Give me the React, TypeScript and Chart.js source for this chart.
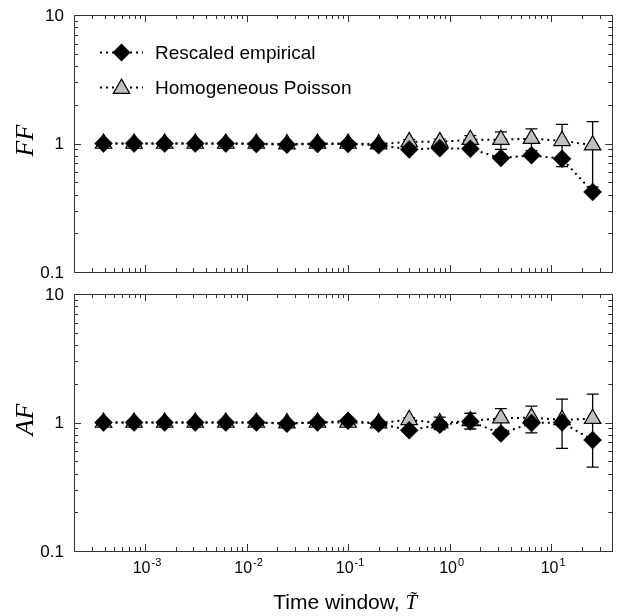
import React, { useEffect, useRef } from 'react';
import { Chart, registerables } from 'chart.js';
Chart.register(...registerables);

// Time windows (T̃)
const WINDOWS = [0.000390625, 0.00078125, 0.0015625, 0.003125, 0.00625, 0.0125, 0.025, 0.05, 0.1, 0.2, 0.4, 0.8, 1.6, 3.2, 6.4, 12.8, 25.6];

// Fano factor panel
const FF_EMPIRICAL = [1.0, 1.0, 1.0, 1.0, 1.0, 0.99, 0.98, 0.99, 0.99, 0.97, 0.9, 0.92, 0.91, 0.77, 0.81, 0.76, 0.42];
const FF_POISSON = [1.0, 1.0, 1.0, 1.0, 1.0, 1.0, 0.99, 1.0, 1.0, 0.99, 1.03, 1.03, 1.07, 1.07, 1.09, 1.05, 0.97];
const FF_POISSON_LO = [null, null, null, null, null, null, null, null, null, 0.97, 0.99, 0.98, 0.99, 0.9, 0.88, 0.66, 0.46];
const FF_POISSON_HI = [null, null, null, null, null, null, null, null, null, 1.01, 1.07, 1.08, 1.15, 1.23, 1.3, 1.41, 1.48];

// Allan factor panel
const AF_EMPIRICAL = [1.0, 1.0, 1.0, 1.0, 1.0, 1.0, 0.98, 1.0, 1.03, 0.98, 0.87, 0.96, 1.02, 0.82, 0.99, 1.0, 0.73];
const AF_POISSON = [1.0, 1.0, 1.0, 1.0, 1.0, 1.0, 0.99, 1.0, 1.0, 0.99, 1.05, 0.99, 1.03, 1.08, 1.09, 1.05, 1.07];
const AF_POISSON_LO = [null, null, null, null, null, null, null, null, 0.97, 0.97, 0.97, 0.88, 0.89, 0.88, 0.83, 0.63, 0.45];
const AF_POISSON_HI = [null, null, null, null, null, null, null, null, 1.03, 1.01, 1.09, 1.1, 1.18, 1.28, 1.34, 1.52, 1.66];

const X_MIN = 2e-4;
const X_MAX = 40;
const Y_MIN = 0.1;
const Y_MAX = 10;
const X_DECADE_LABELS = ['-3', '-2', '-1', '0', '1'];
const X_DECADE_EXP = [-3, -2, -1, 0, 1];
const Y_TICK_LABELS = [0.1, 1, 10];
const Y_TICK_TEXT = ['0.1', '1', '10'];
const LEGEND_LABELS = ['Rescaled empirical', 'Homogeneous Poisson'];

const SANS = "'Liberation Sans', Arial, Helvetica, sans-serif";
const SERIF = "'Liberation Serif', 'Times New Roman', serif";

const DIAMOND_R = 9;
const TRIANGLE_R = 9.5;

type PanelSpec = {
  yTitle: string;
  emp: number[];
  poi: number[];
  lo: (number | null)[];
  hi: (number | null)[];
  showXLabels: boolean;
  showLegend: boolean;
  padding: { left: number; right: number; top: number; bottom: number };
  height: number;
};

function drawDiamond(ctx: CanvasRenderingContext2D, x: number, y: number, r: number) {
  ctx.beginPath();
  ctx.moveTo(x, y - r);
  ctx.lineTo(x + r, y);
  ctx.lineTo(x, y + r);
  ctx.lineTo(x - r, y);
  ctx.closePath();
  ctx.fillStyle = '#000';
  ctx.fill();
}

function drawTriangle(ctx: CanvasRenderingContext2D, x: number, y: number, r: number) {
  const h = r * 1.5;
  const half = r * Math.sin(Math.PI / 3);
  ctx.beginPath();
  ctx.moveTo(x, y - r);
  ctx.lineTo(x + half, y - r + h);
  ctx.lineTo(x - half, y - r + h);
  ctx.closePath();
  ctx.fillStyle = '#c0c0c0';
  ctx.fill();
  ctx.strokeStyle = '#000';
  ctx.lineWidth = 1.2;
  ctx.stroke();
}

function makePlugin(spec: PanelSpec) {
  return {
    id: 'panelDecor',
    beforeDatasetsDraw(chart: any) {
      const ctx: CanvasRenderingContext2D = chart.ctx;
      const xs = chart.scales.x;
      const ys = chart.scales.y;
      ctx.save();
      ctx.strokeStyle = '#000';
      ctx.lineWidth = 1.3;
      for (let i = 0; i < WINDOWS.length; i++) {
        const lo = spec.lo[i];
        const hi = spec.hi[i];
        if (lo == null || hi == null) continue;
        const x = xs.getPixelForValue(WINDOWS[i]);
        const y1 = ys.getPixelForValue(lo);
        const y2 = ys.getPixelForValue(hi);
        ctx.beginPath();
        ctx.moveTo(x, y1);
        ctx.lineTo(x, y2);
        ctx.moveTo(x - 6, y1);
        ctx.lineTo(x + 6, y1);
        ctx.moveTo(x - 6, y2);
        ctx.lineTo(x + 6, y2);
        ctx.stroke();
      }
      ctx.restore();
    },
    afterDraw(chart: any) {
      const ctx: CanvasRenderingContext2D = chart.ctx;
      const { left, right, top, bottom } = chart.chartArea;
      const xs = chart.scales.x;
      const ys = chart.scales.y;
      ctx.save();
      // frame
      ctx.strokeStyle = '#333';
      ctx.lineWidth = 1;
      ctx.strokeRect(Math.round(left) + 0.5, Math.round(top) + 0.5, Math.round(right - left), Math.round(bottom - top));
      // x ticks
      ctx.beginPath();
      for (let d = -4; d <= 1; d++) {
        for (let m = 1; m <= 9; m++) {
          const v = m * Math.pow(10, d);
          if (v < X_MIN || v > X_MAX) continue;
          const px = Math.round(xs.getPixelForValue(v)) + 0.5;
          const len = m === 1 ? 7 : 4;
          ctx.moveTo(px, bottom);
          ctx.lineTo(px, bottom - len);
          ctx.moveTo(px, top);
          ctx.lineTo(px, top + len);
        }
      }
      // y ticks
      for (let d = -1; d <= 1; d++) {
        for (let m = 1; m <= 9; m++) {
          const v = m * Math.pow(10, d);
          if (v < Y_MIN || v > Y_MAX) continue;
          const py = Math.round(ys.getPixelForValue(v)) + 0.5;
          const len = m === 1 ? 7 : 4;
          ctx.moveTo(left, py);
          ctx.lineTo(left + len, py);
          ctx.moveTo(right, py);
          ctx.lineTo(right - len, py);
        }
      }
      ctx.stroke();

      // y tick labels
      ctx.fillStyle = '#000';
      ctx.font = `17px ${SANS}`;
      ctx.textAlign = 'right';
      ctx.textBaseline = 'middle';
      Y_TICK_LABELS.forEach((v, i) => {
        ctx.fillText(Y_TICK_TEXT[i], left - 10, ys.getPixelForValue(v) + 1);
      });

      // y title
      ctx.save();
      ctx.translate(26, (top + bottom) / 2 - 3);
      ctx.rotate(-Math.PI / 2);
      ctx.font = `italic 26px ${SERIF}`;
      ctx.textAlign = 'center';
      ctx.textBaseline = 'middle';
      ctx.fillText(spec.yTitle, 0, 0);
      ctx.restore();

      if (spec.showXLabels) {
        X_DECADE_EXP.forEach((e, i) => {
          const px = xs.getPixelForValue(Math.pow(10, e)) + 2;
          ctx.font = `16px ${SANS}`;
          const w1 = ctx.measureText('10').width;
          ctx.font = `11px ${SANS}`;
          const w2 = ctx.measureText(X_DECADE_LABELS[i]).width;
          const start = px - (w1 + w2 + 1) / 2;
          ctx.textAlign = 'left';
          ctx.textBaseline = 'alphabetic';
          ctx.font = `16px ${SANS}`;
          ctx.fillText('10', start, bottom + 22);
          ctx.font = `11px ${SANS}`;
          ctx.fillText(X_DECADE_LABELS[i], start + w1 + 1, bottom + 15);
        });
        // x title
        const cx = (left + right) / 2 + 2;
        const base = bottom + 58;
        ctx.font = `21px ${SANS}`;
        const part1 = 'Time window, ';
        const wA = ctx.measureText(part1).width;
        ctx.font = `italic 21px ${SERIF}`;
        const wB = ctx.measureText('T').width;
        const sx = cx - (wA + wB) / 2;
        ctx.textAlign = 'left';
        ctx.font = `21px ${SANS}`;
        ctx.fillText(part1, sx, base);
        ctx.font = `italic 21px ${SERIF}`;
        ctx.fillText('T\u0303', sx + wA, base);
      }

      if (spec.showLegend) {
        const rows = [52.5, 87.6];
        rows.forEach((y, i) => {
          ctx.save();
          ctx.strokeStyle = '#000';
          ctx.lineWidth = 2;
          ctx.setLineDash([2, 4]);
          ctx.beginPath();
          ctx.moveTo(100, y);
          ctx.lineTo(143, y);
          ctx.stroke();
          ctx.restore();
          if (i === 0) drawDiamond(ctx, 121.5, y, DIAMOND_R);
          else drawTriangle(ctx, 121.5, y + 1, TRIANGLE_R);
          ctx.fillStyle = '#000';
          ctx.font = `19px ${SANS}`;
          ctx.textAlign = 'left';
          ctx.textBaseline = 'middle';
          ctx.fillText(LEGEND_LABELS[i], 155, y + 1);
        });
      }
      ctx.restore();
    },
  };
}

function Panel({ spec }: { spec: PanelSpec }) {
  const ref = useRef<HTMLCanvasElement | null>(null);
  useEffect(() => {
    if (!ref.current) return;
    const dash = [2, 4];
    const chart = new Chart(ref.current, {
      type: 'line',
      data: {
        datasets: [
          {
            label: LEGEND_LABELS[0],
            data: WINDOWS.map((x, i) => ({ x, y: spec.emp[i] })),
            borderColor: '#000',
            borderWidth: 2,
            borderDash: dash,
            pointStyle: 'rectRot',
            pointRadius: DIAMOND_R,
            pointBackgroundColor: '#000',
            pointBorderColor: '#000',
            pointBorderWidth: 0.5,
            fill: false,
            tension: 0,
          },
          {
            label: LEGEND_LABELS[1],
            data: WINDOWS.map((x, i) => ({ x, y: spec.poi[i] })),
            borderColor: '#000',
            borderWidth: 2,
            borderDash: dash,
            pointStyle: 'triangle',
            pointRadius: TRIANGLE_R,
            pointBackgroundColor: '#c0c0c0',
            pointBorderColor: '#000',
            pointBorderWidth: 1.2,
            fill: false,
            tension: 0,
          },
        ],
      } as any,
      options: {
        responsive: false,
        animation: false,
        events: [],
        layout: { padding: spec.padding },
        plugins: { legend: { display: false }, tooltip: { enabled: false } },
        scales: {
          x: { type: 'logarithmic', min: X_MIN, max: X_MAX, display: false },
          y: { type: 'logarithmic', min: Y_MIN, max: Y_MAX, display: false },
        },
      } as any,
      plugins: [makePlugin(spec)],
    });
    return () => chart.destroy();
  }, [spec]);
  return <canvas ref={ref} width={623} height={spec.height} style={{ display: 'block', width: 623, height: spec.height }} />;
}

const TOP: PanelSpec = {
  yTitle: 'FF',
  emp: FF_EMPIRICAL,
  poi: FF_POISSON,
  lo: FF_POISSON_LO,
  hi: FF_POISSON_HI,
  showXLabels: false,
  showLegend: true,
  padding: { left: 74, right: 8, top: 15, bottom: 11 },
  height: 283,
};

const BOTTOM: PanelSpec = {
  yTitle: 'AF',
  emp: AF_EMPIRICAL,
  poi: AF_POISSON,
  lo: AF_POISSON_LO,
  hi: AF_POISSON_HI,
  showXLabels: true,
  showLegend: false,
  padding: { left: 74, right: 8, top: 11, bottom: 65 },
  height: 333,
};

export default function App() {
  return (
    <div style={{ position: 'absolute', left: 0, top: 0, width: 623, height: 616, background: '#fff' }}>
      <Panel spec={TOP} />
      <Panel spec={BOTTOM} />
    </div>
  );
}
